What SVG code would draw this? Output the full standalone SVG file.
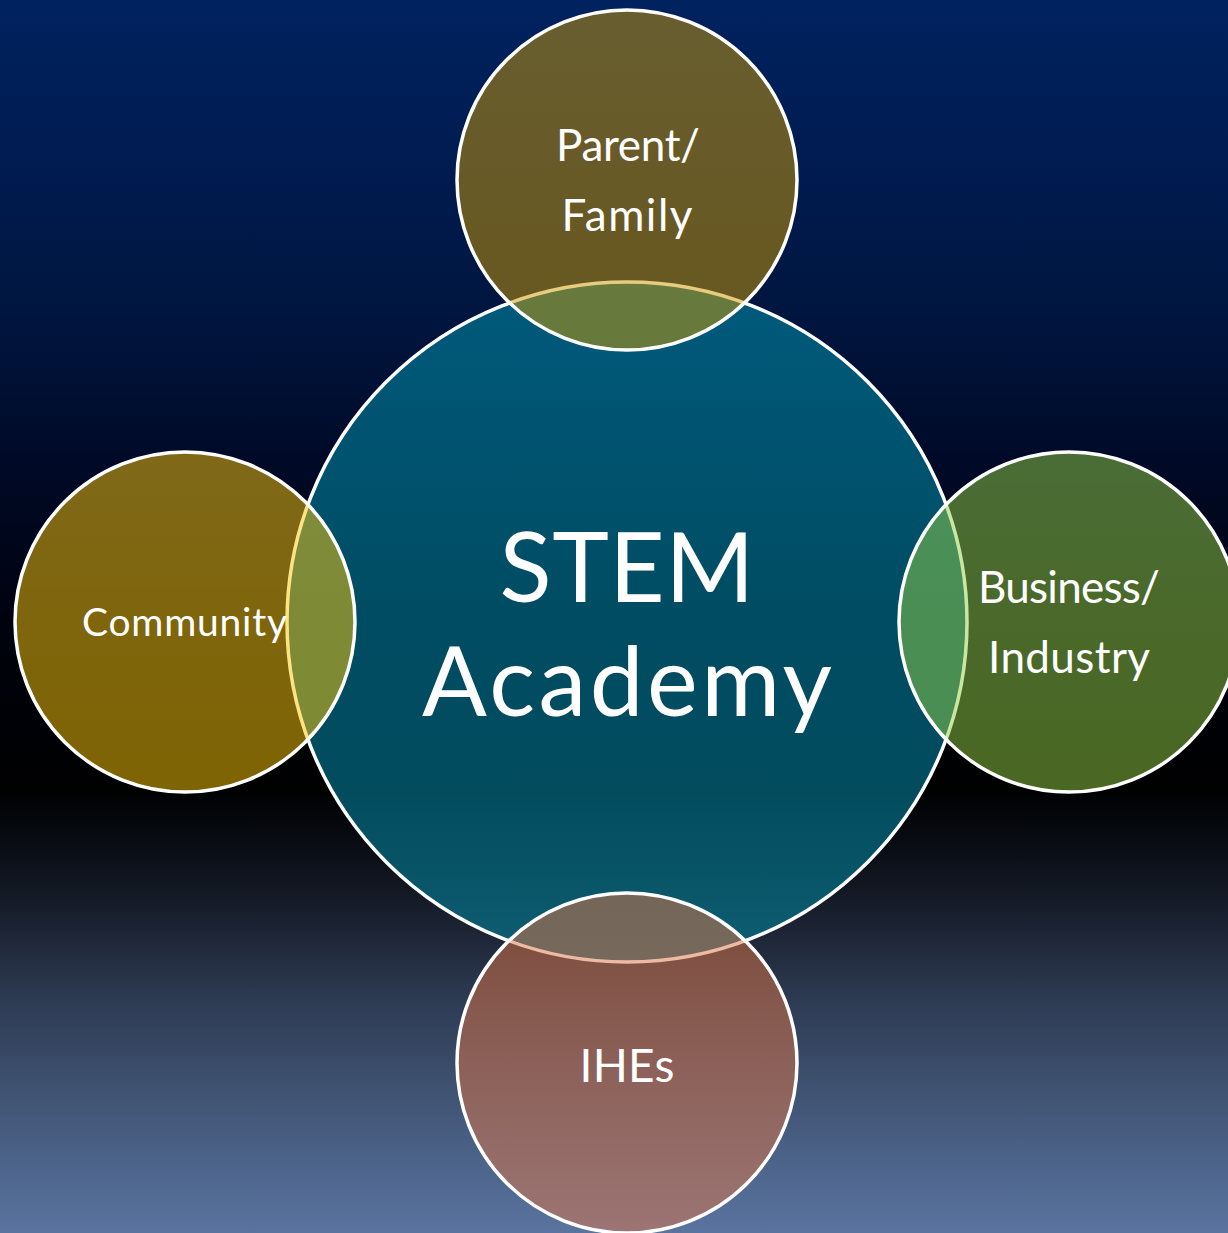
<svg xmlns="http://www.w3.org/2000/svg" width="1228" height="1233" viewBox="0 0 1228 1233">
  <defs>
    <linearGradient id="bg" x1="0" y1="0" x2="0" y2="1">
      <stop offset="0" stop-color="#00225f"/>
      <stop offset="0.12" stop-color="#001c52"/>
      <stop offset="0.25" stop-color="#001640"/>
      <stop offset="0.37" stop-color="#000a28"/>
      <stop offset="0.5" stop-color="#00030f"/>
      <stop offset="0.64" stop-color="#000000"/>
      <stop offset="0.69" stop-color="#0a0e16"/>
      <stop offset="0.73" stop-color="#151b27"/>
      <stop offset="0.81" stop-color="#2d3a52"/>
      <stop offset="0.89" stop-color="#405474"/>
      <stop offset="1" stop-color="#5a74a0"/>
    </linearGradient>
    <linearGradient id="core" x1="0" y1="0" x2="0" y2="1">
      <stop offset="0" stop-color="#005a7c"/>
      <stop offset="0.5" stop-color="#004c62"/>
      <stop offset="0.75" stop-color="#024c5e"/>
      <stop offset="1" stop-color="#0f5e72"/>
    </linearGradient>
  </defs>
  <style>
    .ring { stroke: #ffffff; stroke-width: 3.5; }
    .sat { fill-opacity: 0.5; }
    .label { font-family: "Lato", "Liberation Sans", sans-serif; fill: #ffffff; text-anchor: middle; }
  </style>

  <rect x="0" y="0" width="1228" height="1233" fill="url(#bg)"/>

  <!-- central hub -->
  <g id="stem-academy">
    <circle class="ring" cx="627" cy="622" r="340" fill="url(#core)"/>
    <text class="label" x="627" y="602" font-size="96" textLength="255">STEM</text>
    <text class="label" x="627" y="716" font-size="96" textLength="410">Academy</text>
  </g>

  <!-- partner circles, translucent over the hub -->
  <g id="parent-family">
    <circle class="ring sat" cx="627" cy="180" r="170" fill="#d09a00"/>
    <text class="label" x="628" y="161" font-size="44" textLength="144">Parent/</text>
    <text class="label" x="627" y="231" font-size="44" textLength="131">Family</text>
  </g>

  <g id="community">
    <circle class="ring sat" cx="185" cy="622" r="170" fill="#fec80a"/>
    <text class="label" x="184.5" y="636" font-size="39" textLength="205">Community</text>
  </g>

  <g id="business-industry">
    <circle class="ring sat" cx="1069" cy="622" r="170" fill="#94d046"/>
    <text class="label" x="1069" y="603" font-size="44" textLength="182">Business/</text>
    <text class="label" x="1069" y="673" font-size="44" textLength="162">Industry</text>
  </g>

  <g id="ihes">
    <circle class="ring sat" cx="627" cy="1063" r="170" fill="#de7648"/>
    <text class="label" x="627" y="1082" font-size="46" textLength="95">IHEs</text>
  </g>

  <g id="connectors"/>
</svg>
